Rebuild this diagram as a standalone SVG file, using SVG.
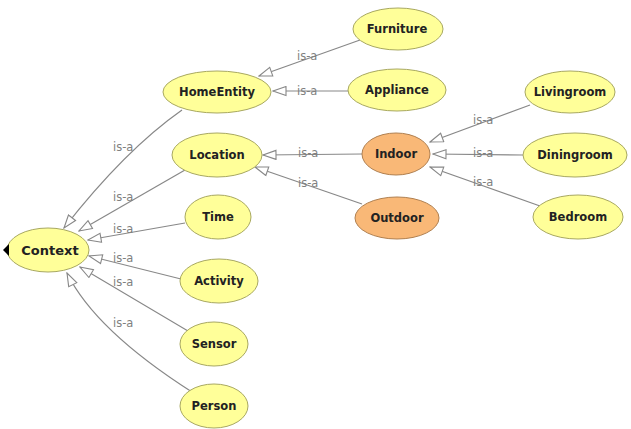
<svg xmlns="http://www.w3.org/2000/svg" width="631" height="429" viewBox="0 0 631 429">
<style>
.n{fill:#ffff99;stroke:#a8a860;stroke-width:1}
.o{fill:#f9b877;stroke:#b08050;stroke-width:1}
.t{font-family:"DejaVu Sans",Verdana,sans-serif;font-weight:bold;font-size:11.5px;fill:#222;text-anchor:middle}
.e{fill:none;stroke:#888;stroke-width:1.2;marker-end:url(#tri)}
.l{font-family:"DejaVu Sans",Verdana,sans-serif;font-size:11.5px;fill:#808080}
</style>
<defs>
<marker id="tri" viewBox="0 0 15 11" refX="14" refY="5.5" markerWidth="15" markerHeight="11" markerUnits="userSpaceOnUse" orient="auto">
<path d="M1,1 L14,5.5 L1,10 z" fill="#fff" stroke="#888" stroke-width="1.1"/>
</marker>
</defs>
<rect width="631" height="429" fill="#fff"/>
<g id="connectors">
<path class="e" d="M360,40 L259,76"/>
<path class="e" d="M348,91 L273,91"/>
<path class="e" d="M182,110 Q125,150 64,228"/>
<path class="e" d="M185,170 L79,231"/>
<path class="e" d="M185,223 L88,240"/>
<path class="e" d="M181,279 L89,256"/>
<path class="e" d="M188,331 L80,267"/>
<path class="e" d="M192,392 Q95,330 67,273"/>
<path class="e" d="M362,154 L263,155"/>
<path class="e" d="M362,204 L255,167"/>
<path class="e" d="M530,105 L430,142"/>
<path class="e" d="M523,155 L433,154"/>
<path class="e" d="M540,206 L430,167"/>
<text class="l" x="297" y="60">is-a</text>
<text class="l" x="297" y="95">is-a</text>
<text class="l" x="113" y="151">is-a</text>
<text class="l" x="113" y="201">is-a</text>
<text class="l" x="113" y="233">is-a</text>
<text class="l" x="113" y="262">is-a</text>
<text class="l" x="113" y="286">is-a</text>
<text class="l" x="113" y="327">is-a</text>
<text class="l" x="298" y="157">is-a</text>
<text class="l" x="298" y="187">is-a</text>
<text class="l" x="473" y="124">is-a</text>
<text class="l" x="473" y="157">is-a</text>
<text class="l" x="473" y="186">is-a</text>
</g>
<g id="Context"><ellipse class="n" cx="48" cy="250" rx="41" ry="22"/><path d="M3,250 L9,244 L9,256 z" fill="#000"/><text class="t" x="50" y="255" style="font-size:13px">Context</text></g>
<g id="HomeEntity"><ellipse class="n" cx="217" cy="92" rx="54" ry="21"/><text class="t" x="217" y="96">HomeEntity</text></g>
<g id="Furniture"><ellipse class="n" cx="398" cy="29" rx="45" ry="21"/><text class="t" x="397" y="33">Furniture</text></g>
<g id="Appliance"><ellipse class="n" cx="397" cy="90" rx="49" ry="21"/><text class="t" x="397" y="94">Appliance</text></g>
<g id="Location"><ellipse class="n" cx="217" cy="155" rx="45" ry="22"/><text class="t" x="217" y="159">Location</text></g>
<g id="Time"><ellipse class="n" cx="218" cy="217" rx="33" ry="22"/><text class="t" x="218" y="221">Time</text></g>
<g id="Activity"><ellipse class="n" cx="219" cy="281" rx="39" ry="22"/><text class="t" x="219" y="285">Activity</text></g>
<g id="Sensor"><ellipse class="n" cx="214" cy="344" rx="34" ry="22"/><text class="t" x="214" y="348">Sensor</text></g>
<g id="Person"><ellipse class="n" cx="214" cy="406" rx="34" ry="22"/><text class="t" x="214" y="410">Person</text></g>
<g id="Indoor"><ellipse class="o" cx="396" cy="154" rx="34" ry="21"/><text class="t" x="396" y="158">Indoor</text></g>
<g id="Outdoor"><ellipse class="o" cx="397" cy="218" rx="42" ry="21"/><text class="t" x="397" y="222">Outdoor</text></g>
<g id="Livingroom"><ellipse class="n" cx="570" cy="92" rx="45" ry="21"/><text class="t" x="570" y="96">Livingroom</text></g>
<g id="Diningroom"><ellipse class="n" cx="575" cy="155" rx="52" ry="22"/><text class="t" x="575" y="159">Diningroom</text></g>
<g id="Bedroom"><ellipse class="n" cx="578" cy="217" rx="45" ry="22"/><text class="t" x="578" y="221">Bedroom</text></g>
</svg>
